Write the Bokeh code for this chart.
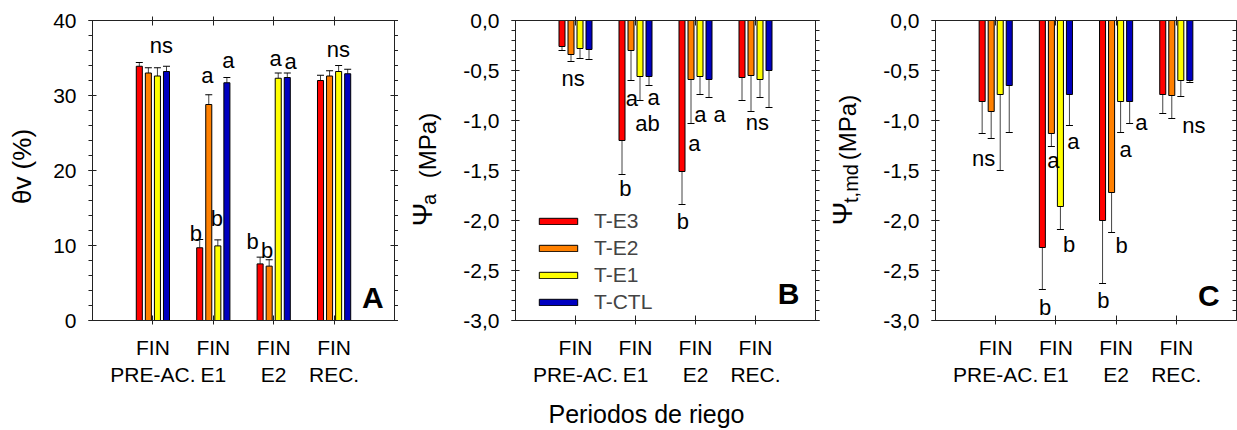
import math
from bokeh.plotting import figure
from bokeh.models import (ColumnDataSource, FixedTicker, LinearAxis, Range1d, Whisker,
                          TeeHead, Label, Legend, LegendItem)
from bokeh.layouts import row, column
from bokeh.embed import file_html
from bokeh.resources import INLINE
from bokeh.core.properties import value

FONT = "Liberation Sans"

# ---------------- data ----------------
periods = ["FIN\nPRE-AC.", "FIN\nE1", "FIN\nE2", "FIN\nREC."]
treatments = ["T-E3", "T-E2", "T-E1", "T-CTL"]
colors = ["#FF0000", "#FF8000", "#FFFF00", "#0000C0"]

# Panel A: theta v (%)
thetav_E3 = [33.9, 9.7, 7.55, 32.0]
thetav_E2 = [33.0, 28.8, 7.25, 32.6]
thetav_E1 = [32.6, 9.95, 32.3, 33.2]
thetav_CTL = [33.2, 31.7, 32.4, 32.9]
thetav_err_E3 = [0.5, 1.1, 0.9, 0.7]
thetav_err_E2 = [0.7, 1.3, 0.85, 0.7]
thetav_err_E1 = [1.1, 0.8, 0.7, 0.8]
thetav_err_CTL = [0.7, 0.7, 0.6, 0.6]

# Panel B: Psi a (MPa)
psia_E3 = [-0.26, -1.20, -1.51, -0.57]
psia_E2 = [-0.34, -0.30, -0.59, -0.55]
psia_E1 = [-0.28, -0.56, -0.56, -0.59]
psia_CTL = [-0.29, -0.56, -0.59, -0.50]
psia_err_E3 = [0.04, 0.34, 0.33, 0.23]
psia_err_E2 = [0.07, 0.30, 0.44, 0.36]
psia_err_E1 = [0.10, 0.24, 0.18, 0.18]
psia_err_CTL = [0.10, 0.09, 0.18, 0.37]

# Panel C: Psi t,md (MPa)
psimd_E3 = [-0.81, -2.27, -2.00, -0.74]
psimd_E2 = [-0.91, -1.13, -1.72, -0.75]
psimd_E1 = [-0.74, -1.86, -0.81, -0.60]
psimd_CTL = [-0.65, -0.74, -0.81, -0.60]
psimd_err_E3 = [0.32, 0.42, 0.63, 0.19]
psimd_err_E2 = [0.27, 0.13, 0.40, 0.23]
psimd_err_E1 = [0.76, 0.23, 0.31, 0.16]
psimd_err_CTL = [0.47, 0.31, 0.22, 0.02]

# significance letters
letters_A = ["ns", "b", "a", "b", "a", "b", "b", "a", "a", "ns"]
letters_A_x = [1.14, 1.71, 1.90, 2.06, 2.25, 2.65, 2.89, 3.03, 3.28, 4.07]
letters_A_y = [36.7, 11.6, 32.7, 13.6, 34.7, 10.5, 9.4, 35.0, 34.5, 36.1]
letters_B = ["ns", "a", "a", "ab", "b", "a", "a", "a", "b", "ns"]
letters_B_x = [0.96, 1.94, 2.30, 2.20, 1.83, 3.08, 3.40, 2.98, 2.79, 4.03]
letters_B_y = [-0.58, -0.78, -0.77, -1.03, -1.68, -0.94, -0.94, -1.23, -2.01, -1.02]
letters_C = ["ns", "a", "a", "b", "b", "a", "a", "b", "b", "ns"]
letters_C_x = [0.80, 1.96, 2.29, 1.82, 2.22, 3.16, 3.42, 2.79, 3.09, 4.29]
letters_C_y = [-1.38, -1.40, -1.21, -2.87, -2.24, -1.29, -1.02, -2.80, -2.25, -1.05]

group_pos = [1, 2, 3, 4]
offsets = [-0.225, -0.075, 0.075, 0.225]
bar_width = 0.1

AX = "#222222"
ROW_H = 398
BOT_H = 32
FRAME_TOP = 20
FRAME_BOTTOM = 320


def clean(p):
    p.outline_line_color = None
    p.background_fill_color = "white"
    p.border_fill_color = "white"
    for r in list(p.center):
        if r.__class__.__name__ == "Grid":
            p.center.remove(r)


def make_fig(width, bl, br, y0, y1, yticks, yminor, yfmt, right_out=4):
    p = figure(width=width, height=ROW_H, x_range=Range1d(0, 5), y_range=Range1d(y0, y1),
               output_backend="svg", toolbar_location=None,
               min_border_left=bl, min_border_right=br, min_border_top=FRAME_TOP,
               min_border_bottom=ROW_H - FRAME_BOTTOM,
               x_axis_location=None, y_axis_location=None)
    clean(p)
    for loc in ["below", "above"]:
        ax = LinearAxis(ticker=FixedTicker(ticks=group_pos, minor_ticks=[]))
        ax.axis_line_color = AX
        ax.major_tick_line_color = AX
        ax.major_tick_in = 5
        ax.major_tick_out = 4
        if loc == "below":
            ax.major_label_overrides = {g: lab for g, lab in zip(group_pos, periods)}
            ax.major_label_text_font = FONT
            ax.major_label_text_font_size = "21px"
            ax.major_label_text_color = "black"
            ax.major_label_standoff = 11
        else:
            ax.major_label_overrides = {g: "" for g in group_pos}
            ax.major_label_standoff = 0
        p.add_layout(ax, loc)
    for loc in ["left", "right"]:
        ax = LinearAxis(ticker=FixedTicker(ticks=yticks, minor_ticks=yminor))
        ax.axis_line_color = AX
        ax.major_tick_line_color = AX
        ax.minor_tick_line_color = AX
        ax.major_tick_in = 4
        ax.minor_tick_in = 0
        ax.minor_tick_out = 4
        if loc == "left":
            ax.major_tick_out = 4
            ax.major_label_overrides = {t: yfmt(t) for t in yticks}
            ax.major_label_text_font = FONT
            ax.major_label_text_font_size = "21px"
            ax.major_label_text_color = "black"
            ax.major_label_standoff = 12
        else:
            ax.major_tick_out = right_out
            ax.minor_tick_out = right_out
            ax.minor_tick_in = 4 - right_out
            ax.major_label_overrides = {t: "" for t in yticks}
            ax.major_label_standoff = 0
        p.add_layout(ax, loc)
    return p


def text_fig(width, height, y0, y1):
    p = figure(width=width, height=height, x_range=Range1d(0, width), y_range=Range1d(y0, y1),
               output_backend="svg", toolbar_location=None, title=None, min_border=0,
               min_border_left=0, min_border_right=0, min_border_top=0, min_border_bottom=0,
               x_axis_location=None, y_axis_location=None)
    clean(p)
    return p


def add_bars(p, series, errs, down):
    renderers = []
    for vals, err, col, off in zip(series, errs, colors, offsets):
        xs = [g + off for g in group_pos]
        if down:
            src = ColumnDataSource(dict(x=xs, top=[0] * 4, bottom=vals,
                                        hi=vals, lo=[v - e for v, e in zip(vals, err)]))
        else:
            src = ColumnDataSource(dict(x=xs, top=vals, bottom=[0] * 4,
                                        lo=vals, hi=[v + e for v, e in zip(vals, err)]))
        r = p.vbar(x="x", top="top", bottom="bottom", width=bar_width, source=src,
                   fill_color=col, line_color="black", line_width=1)
        head = TeeHead(size=7, line_color="black", line_width=1)
        if down:
            w = Whisker(source=src, base="x", upper="hi", lower="lo", dimension="height",
                        line_color="#444444", line_width=1, upper_head=None, lower_head=head)
        else:
            w = Whisker(source=src, base="x", upper="hi", lower="lo", dimension="height",
                        line_color="#444444", line_width=1, upper_head=head, lower_head=None)
        p.add_layout(w)
        renderers.append(r)
    return renderers


def add_letters(p, txt, xs, ys, panel, px, py):
    src = ColumnDataSource(dict(x=xs, y=ys, t=txt))
    p.text(x="x", y="y", text="t", source=src, text_font=value(FONT), text_font_size="22px",
           text_align="center", text_baseline="middle", text_color="black")
    p.add_layout(Label(x=px, y=py, text=panel, text_font=FONT, text_font_size="30px",
                       text_font_style="bold", text_align="center", text_baseline="middle",
                       text_color="black"))


def vtext(p, x, y_from_top, txt, size):
    # strip frames are aligned with the panel frames (rows align plot frames)
    p.text(x=[x], y=[ROW_H - y_from_top], text=[txt], angle=math.pi / 2, text_font=value(FONT),
           text_font_size=size, text_align="center", text_baseline="middle",
           text_color="black")


def comma(t):
    return ("%.1f" % t).replace(".", ",")


psi_ticks = [-3.0, -2.5, -2.0, -1.5, -1.0, -0.5, 0.0]
psi_minor = [round(-3 + 0.1 * i, 2) for i in range(31)]

SY0, SY1 = ROW_H - FRAME_BOTTOM, ROW_H - FRAME_TOP

# ---------------- y-axis title strips ----------------
labA = text_fig(48, ROW_H, SY0, SY1)
vtext(labA, 21.5, 166, "θv (%)", "26px")

labB = text_fig(62, ROW_H, SY0, SY1)
vtext(labB, 24, 214, "Ψ", "28px")
vtext(labB, 30, 199, "a", "20px")
vtext(labB, 28.5, 145, "(MPa)", "24px")

labC = text_fig(60, ROW_H, SY0, SY1)
vtext(labC, 22, 213, "Ψ", "28px")
vtext(labC, 30, 183, "t,md", "20px")
vtext(labC, 26.5, 127, "(MPa)", "24px")

# ---------------- Panel A ----------------
pA = make_fig(350, 44, 4, 0, 40, [0, 10, 20, 30, 40], list(range(0, 41, 2)),
              lambda t: "%d" % t)
add_bars(pA, [thetav_E3, thetav_E2, thetav_E1, thetav_CTL],
         [thetav_err_E3, thetav_err_E2, thetav_err_E1, thetav_err_CTL], down=False)
add_letters(pA, letters_A, letters_A_x, letters_A_y, "A", 4.64, 3.1)

# ---------------- Panel B ----------------
pB = make_fig(360, 53, 5, -3, 0, psi_ticks, psi_minor, comma)
rB = add_bars(pB, [psia_E3, psia_E2, psia_E1, psia_CTL],
              [psia_err_E3, psia_err_E2, psia_err_E1, psia_err_CTL], down=True)
add_letters(pB, letters_B, letters_B_x, letters_B_y, "B", 4.55, -2.73)
legend = Legend(items=[LegendItem(label=t, renderers=[r]) for t, r in zip(treatments, rB)],
                location=(19, 6), glyph_width=48, glyph_height=8, label_standoff=12,
                spacing=3, padding=0, margin=0, border_line_color=None,
                background_fill_alpha=0, label_text_font=FONT, label_text_font_size="21px",
                label_height=24)
pB.add_layout(legend)

# ---------------- Panel C ----------------
pC = make_fig(357, 54, 1, -3, 0, psi_ticks, psi_minor, comma, right_out=0)
add_bars(pC, [psimd_E3, psimd_E2, psimd_E1, psimd_CTL],
         [psimd_err_E3, psimd_err_E2, psimd_err_E1, psimd_err_CTL], down=True)
add_letters(pC, letters_C, letters_C_x, letters_C_y, "C", 4.54, -2.75)

# ---------------- x title strip ----------------
bottom = text_fig(1237, BOT_H, 0, BOT_H)
bottom.text(x=[646], y=[BOT_H - 15], text=["Periodos de riego"], text_font=value(FONT),
            text_font_size="25px", text_align="center", text_baseline="middle",
            text_color="black")

layout = column(row(labA, pA, labB, pB, labC, pC, spacing=0), bottom, spacing=0)
open("out.html", "w").write(file_html(layout, INLINE))
